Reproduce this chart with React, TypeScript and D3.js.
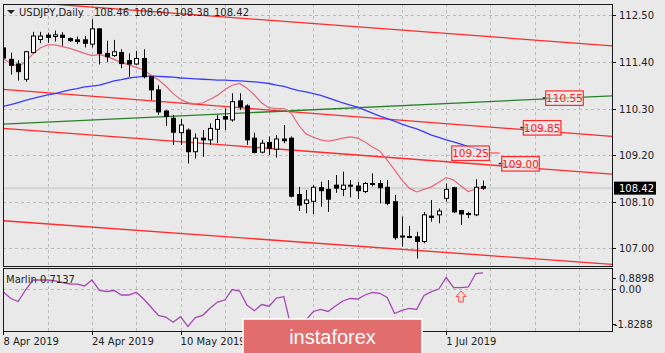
import * as d3 from 'd3'

// bar index -> OHLC, USDJPY daily, 8 Apr 2019 .. 8 Jul 2019
const open = [111.73, 111.46, 111.35, 110.99, 111.62, 111.93, 112.03, 112.0, 112.03, 111.95, 111.92, 111.92, 111.82, 112.18, 111.6, 111.55, 111.62, 111.43, 111.35, 111.48, 111.05, 110.74, 110.24, 110.07, 109.73, 109.79, 109.28, 109.6, 109.56, 109.81, 110.11, 110.03, 110.48, 110.36, 109.6, 109.27, 109.5, 109.34, 109.58, 109.6, 108.27, 108.06, 108.11, 108.43, 108.39, 108.49, 108.39, 108.49, 108.47, 108.34, 108.53, 108.53, 108.44, 108.1, 107.27, 107.28, 107.27, 107.16, 107.76, 107.79, 108.18, 108.43, 107.89, 107.81, 107.79, 108.46]
const high = [111.8, 111.62, 111.44, 111.66, 112.11, 112.11, 112.09, 112.14, 112.1, 111.98, 112.0, 112.01, 112.41, 112.19, 111.9, 111.92, 111.7, 111.6, 111.66, 111.7, 111.06, 110.85, 110.26, 110.15, 110.05, 109.83, 109.71, 109.79, 109.95, 110.15, 110.3, 110.66, 110.66, 110.4, 109.73, 109.56, 109.64, 109.67, 109.91, 109.64, 108.45, 108.38, 108.49, 108.57, 108.61, 108.73, 108.81, 108.61, 108.57, 108.57, 108.77, 108.61, 108.61, 108.26, 107.75, 107.53, 107.39, 107.86, 108.14, 107.94, 108.53, 108.45, 107.9, 107.86, 108.63, 108.6]
const low = [111.45, 111.1, 110.96, 110.93, 111.6, 111.84, 111.85, 111.88, 111.78, 111.87, 111.82, 111.74, 111.74, 111.34, 111.4, 111.52, 111.25, 111.05, 111.33, 111.01, 110.5, 110.15, 109.89, 109.44, 109.44, 109.0, 109.12, 109.16, 109.44, 109.48, 109.79, 109.99, 110.26, 109.44, 109.24, 109.24, 109.2, 109.14, 109.48, 108.2, 107.88, 107.83, 107.81, 107.98, 107.86, 108.31, 108.23, 108.2, 108.16, 108.3, 108.46, 108.06, 108.02, 107.2, 107.04, 107.24, 106.76, 107.12, 107.63, 107.59, 108.1, 107.83, 107.55, 107.71, 107.76, 108.38]
const close = [111.49, 111.32, 111.17, 111.64, 112.01, 112.01, 111.98, 112.04, 111.98, 111.9, 111.88, 111.84, 112.18, 111.6, 111.52, 111.64, 111.36, 111.35, 111.48, 111.05, 110.74, 110.22, 110.11, 109.74, 109.91, 109.28, 109.6, 109.56, 109.83, 110.04, 110.05, 110.46, 110.34, 109.56, 109.26, 109.48, 109.36, 109.58, 109.54, 108.23, 108.02, 108.14, 108.44, 108.36, 108.16, 108.42, 108.49, 108.47, 108.36, 108.53, 108.51, 108.43, 108.06, 107.25, 107.29, 107.27, 107.16, 107.79, 107.73, 107.88, 108.39, 107.86, 107.81, 107.82, 108.44, 108.42]

const fastMA = [111.47, 111.37, 111.29, 111.4, 111.59, 111.73, 111.8, 111.8, 111.76, 111.72, 111.66, 111.6, 111.55, 111.57, 111.53, 111.46, 111.39, 111.33, 111.27, 111.21, 111.09, 110.98, 110.83, 110.65, 110.52, 110.44, 110.41, 110.43, 110.52, 110.61, 110.74, 110.85, 110.89, 110.78, 110.62, 110.43, 110.32, 110.3, 110.3, 110.19, 109.91, 109.7, 109.62, 109.56, 109.53, 109.56, 109.6, 109.63, 109.6, 109.51, 109.39, 109.3, 109.08, 108.85, 108.61, 108.42, 108.33, 108.39, 108.45, 108.56, 108.67, 108.61, 108.47, 108.34, 108.4, 108.42]
const slowMA = [110.35, 110.39, 110.44, 110.49, 110.54, 110.58, 110.62, 110.65, 110.7, 110.74, 110.77, 110.81, 110.83, 110.85, 110.9, 110.95, 110.98, 111.02, 111.04, 111.06, 111.07, 111.06, 111.05, 111.04, 111.02, 111.01, 111.0, 110.99, 110.98, 110.97, 110.97, 110.96, 110.95, 110.94, 110.93, 110.91, 110.89, 110.85, 110.82, 110.77, 110.72, 110.69, 110.65, 110.61, 110.55, 110.49, 110.43, 110.38, 110.33, 110.26, 110.19, 110.12, 110.06, 110.0, 109.93, 109.87, 109.82, 109.75, 109.67, 109.62, 109.56, 109.51, 109.46, 109.4, 109.36, 109.31]

const marlin = [-0.135, -0.425, -0.559, -0.046, 0.4, 0.4, 0.4, 0.364, 0.288, 0.221, 0.212, 0.132, 0.4, -0.068, -0.113, -0.068, -0.269, -0.269, -0.149, -0.447, -0.804, -1.182, -1.249, -1.486, -1.236, -1.673, -1.28, -1.174, -0.862, -0.581, -0.492, -0.024, -0.091, -0.715, -0.969, -0.692, -0.768, -0.403, -0.345, -1.74, -1.8288, -1.383, -1.004, -0.915, -1.004, -0.759, -0.536, -0.425, -0.447, -0.269, -0.157, -0.193, -0.38, -1.093, -0.951, -0.87, -0.906, -0.291, -0.122, -0.001, 0.511, 0.057, 0.057, 0.088, 0.689, 0.7137]

// trend lines: [bar, price, bar, price]
const redLines = [
  [0, 112.85, 82.5, 111.78],
  [0, 110.75, 82.5, 109.64],
  [0, 109.83, 82.5, 108.75],
  [0, 107.65, 82.5, 106.62],
]
const greenLine = [0, 109.93, 82.5, 110.6]

const priceLabels = [110.55, 109.85, 109.25, 109.0]
const priceLabelBars = [73.48, 70.45, 60.75, 67.52]

const priceTicks = [112.5, 111.4, 110.3, 109.2, 108.1, 107.0]
// the 28 May and 13 Jun labels sit under the watermark, so only these show
const xTickBars = [0, 12, 24, 60]
const xTickLabels = ['8 Apr 2019', '24 Apr 2019', '10 May 2019', '1 Jul 2019']
const gridBars = [0, 6, 12, 18, 24, 30, 36, 42, 48, 54, 60, 66, 72, 78]

const marlinTicks = [0.8898, 0.0, -1.8288]
const marlinTickText = ['0.8898', '0.00', '-1.8288']
const lastPrice = 108.42
const title = 'USDJPY,Daily'
const titleValues = ['108.46', '108.60', '108.38', '108.42']

const W = 665
const H = 353
const left = 3
const right = 612
const mainTop = 4
const mainBottom = 266
const indTop = 268
const indBottom = 331
const font = 'DejaVu Sans, Verdana, sans-serif'

export default function App() {
  const x = d3.scaleLinear().domain([0, 60]).range([3.4, 446.2])
  const y = d3.scaleLinear().domain([107.0, 112.5]).range([248.3, 15.3])
  const yi = d3.scaleLinear().domain([-1.8288, 0.8898]).range([330, 269])
  const idx = d3.range(open.length)

  const maLine = (vals: number[]) =>
    d3.line<number>().x((_, i) => x(i)).y(v => y(v))(vals) || ''
  const marlinPath = d3.line<number>().x((_, i) => x(i)).y(v => yi(v))(marlin) || ''

  const seg = (l: number[]) => ({ x1: x(l[0]), y1: y(l[1]), x2: x(l[2]), y2: y(l[3]) })

  return (
    <svg width={W} height={H} style={{ position: 'absolute', left: 0, top: 0, background: '#e9e9e9' }}
      fontFamily={font}>
      <defs>
        <clipPath id="mainClip"><rect x={left} y={mainTop} width={right - left} height={mainBottom - mainTop} /></clipPath>
        <clipPath id="indClip"><rect x={left} y={indTop} width={right - left} height={indBottom - indTop} /></clipPath>
      </defs>
      <rect width={W} height={H} fill="#e9e9e9" />

      {/* grid */}
      <g stroke="#b9b9b9" strokeDasharray="3,3" strokeWidth={1}>
        {priceTicks.map(p => (
          <line key={p} x1={left} x2={right} y1={Math.round(y(p)) + 0.5} y2={Math.round(y(p)) + 0.5} />
        ))}
        {gridBars.map(b => (
          <g key={b}>
            <line x1={Math.round(x(b)) + 0.5} x2={Math.round(x(b)) + 0.5} y1={mainTop} y2={mainBottom} />
            <line x1={Math.round(x(b)) + 0.5} x2={Math.round(x(b)) + 0.5} y1={indTop} y2={indBottom} />
          </g>
        ))}
        <line x1={left} x2={right} y1={Math.round(yi(0)) + 0.5} y2={Math.round(yi(0)) + 0.5} />
      </g>

      <g clipPath="url(#mainClip)">
        {/* last price line */}
        <line x1={left} x2={right} y1={y(lastPrice)} y2={y(lastPrice)} stroke="#d2d2d2" strokeWidth={2} />

        {/* channel lines */}
        {redLines.map((l, i) => (
          <line key={i} {...seg(l)} stroke="#ff2a2a" strokeWidth={1.3} />
        ))}
        <line {...seg(greenLine)} stroke="#2a7f2a" strokeWidth={1.3} />

        {/* moving averages */}
        <path d={maLine(slowMA)} fill="none" stroke="#3b3bff" strokeWidth={1.3} />
        <path d={maLine(fastMA)} fill="none" stroke="#e5677c" strokeWidth={1.2} />

        {/* candles */}
        {idx.map(i => {
          const cx = Math.round(x(i))
          const up = close[i] >= open[i]
          const top = y(Math.max(open[i], close[i]))
          const bot = y(Math.min(open[i], close[i]))
          return (
            <g key={i}>
              <line x1={cx + 0.5} x2={cx + 0.5} y1={y(high[i])} y2={y(low[i])} stroke="#111" strokeWidth={1} />
              <rect x={cx - 1.5} y={top} width={4} height={Math.max(bot - top, 1)}
                fill={up ? '#ffffff' : '#000000'} stroke="#000" strokeWidth={1} />
            </g>
          )
        })}

        {/* price labels */}
        {priceLabels.map((p, i) => {
          const bx = x(priceLabelBars[i])
          const by = y(p)
          return (
            <g key={p}>
              {i === 2 ? (
                <line x1={bx + 37.6} x2={bx + 48} y1={by} y2={by} stroke="#ff4a4a" strokeWidth={1.2} />
              ) : (
                <line x1={bx - 3} x2={bx + 3} y1={by} y2={by} stroke="#402020" strokeWidth={1.5} />
              )}
              <rect x={bx} y={by - 7} width={37.6} height={14.5} fill="#eaeaea" fillOpacity={0.6} stroke="#ff2a2a" strokeWidth={1.2} />
              <text x={bx + 18.8} y={by + 4.2} textAnchor="middle" fontSize={10.5} fill="#ff2020">{p.toFixed(2)}</text>
            </g>
          )
        })}
      </g>

      {/* marlin panel */}
      <g clipPath="url(#indClip)">
        <path d={marlinPath} fill="none" stroke="#a548b4" strokeWidth={1.3} />
      </g>
      <path d="M461,291 L466,296.5 L463.3,296.5 L463.3,302 L458.7,302 L458.7,296.5 L456,296.5 Z"
        fill="#ffd9cf" stroke="#ff4a4a" strokeWidth={1} />
      <text x={6} y={283} fontSize={10} fill="#222">Marlin 0.7137</text>

      {/* frames */}
      <g fill="none" stroke="#1a1a1a" strokeWidth={1}>
        <rect x={left + 0.5} y={mainTop + 0.5} width={right - left} height={mainBottom - mainTop} />
        <rect x={left + 0.5} y={indTop + 0.5} width={right - left} height={indBottom - indTop} />
      </g>

      {/* right axis */}
      {priceTicks.map(p => (
        <g key={p}>
          <line x1={right} x2={right + 4} y1={Math.round(y(p)) + 0.5} y2={Math.round(y(p)) + 0.5} stroke="#111" />
          <text x={619} y={y(p) + 4} fontSize={10} fill="#222">{p.toFixed(2)}</text>
        </g>
      ))}
      <rect x={614} y={y(lastPrice) - 6.5} width={42} height={13} fill="#000" />
      <text x={619} y={y(lastPrice) + 4} fontSize={10} fill="#fff">{lastPrice.toFixed(2)}</text>

      {marlinTicks.map((v, i) => {
        const ty = i === 0 ? 278 : i === 2 ? 324 : yi(v) + 0.5
        return (
          <g key={i}>
            <line x1={right} x2={right + 4} y1={Math.round(ty) + 0.5} y2={Math.round(ty) + 0.5} stroke="#111" />
            <text x={v < 0 ? 614 : 619} y={ty + 4} fontSize={10} fill="#222">{marlinTickText[i]}</text>
          </g>
        )
      })}

      {/* bottom axis */}
      {xTickBars.map((b, i) => (
        <g key={b}>
          <line x1={Math.round(x(b)) + 0.5} x2={Math.round(x(b)) + 0.5} y1={indBottom} y2={indBottom + 4} stroke="#111" />
          <text x={x(b)} y={345} fontSize={10} fill="#222">{xTickLabels[i]}</text>
        </g>
      ))}

      {/* title */}
      <path d="M7,10 L15,10 L11,14 Z" fill="#222" />
      <text x={19} y={16} fontSize={10} fill="#222">{title}</text>
      {titleValues.map((t, i) => (
        <text key={t + i} x={94 + i * 40} y={16} fontSize={10} fill="#222">{t}</text>
      ))}

      {/* watermark */}
      <rect x={243} y={319} width={179} height={36} fill="#e26d6d" stroke="#ffffff" strokeWidth={1.5} />
      <text x={332.5} y={344} textAnchor="middle" fontSize={20} fill="#ffffff"
        fontFamily="Liberation Sans, Arial, sans-serif">instaforex</text>
    </svg>
  )
}
